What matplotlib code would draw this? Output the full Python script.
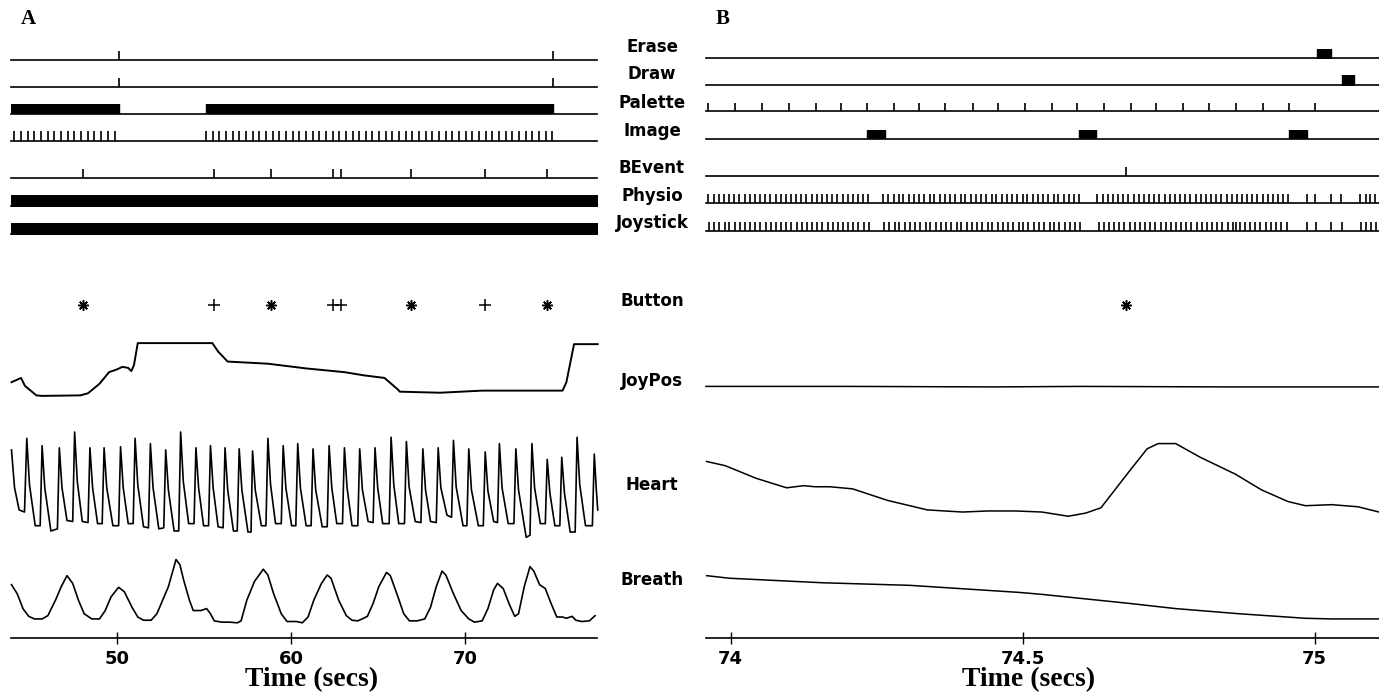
import matplotlib
matplotlib.use("Agg")
import matplotlib.pyplot as plt

# ---------------- data ----------------
xlim_a = (43.88, 77.58)
xlim_b = (73.958, 75.11)
ticks_a = [50, 60, 70]
ticks_b = [74, 74.5, 75]
ticklabels_a = ["50", "60", "70"]
ticklabels_b = ["74", "74.5", "75"]
row_labels = ["Erase", "Draw", "Palette", "Image", "BEvent", "Physio", "Joystick",
              "Button", "JoyPos", "Heart", "Breath"]

# Panel A events
erase_a = [50.1, 75.05]
draw_a = [50.1, 75.05]
palette_a_spans = [(43.9, 50.1), (55.09, 75.05)]
image_a = [44.06, 44.45, 44.83, 45.22, 45.60, 45.99, 46.37, 46.76, 47.14, 47.53, 47.91,
           48.30, 48.68, 49.07, 49.45, 49.84,
           55.09, 55.47, 55.86, 56.24, 56.62, 57.00, 57.39, 57.77, 58.15, 58.54, 58.92,
           59.30, 59.69, 60.07, 60.45, 60.83, 61.22, 61.60, 61.98, 62.37, 62.75, 63.13,
           63.52, 63.90, 64.28, 64.66, 65.05, 65.43, 65.81, 66.20, 66.58, 66.96, 67.35,
           67.73, 68.11, 68.49, 68.88, 69.26, 69.64, 70.03, 70.41, 70.79, 71.18, 71.56,
           71.94, 72.32, 72.71, 73.09, 73.47, 73.86, 74.24, 74.62, 75.01]
bevent_a = [48.04, 55.57, 58.85, 62.40, 62.83, 66.91, 71.16, 74.69]
physio_a_spans = [(43.9, 77.56)]
joystick_a_spans = [(43.9, 77.56)]
button_a_star = [48.04, 58.85, 66.91, 74.69]
button_a_plus = [55.57, 62.40, 62.83, 71.16]

joypos_a_t = [43.91, 44.46, 44.68, 45.34, 45.67, 47.87, 48.31, 48.97, 49.52, 49.96, 50.29,
              50.62, 50.80, 50.95, 51.17, 55.46, 55.79, 56.34, 58.65, 60.86, 63.05, 64.16,
              65.36, 66.13, 66.24, 68.55, 70.98, 75.60, 75.82, 76.26, 77.62]
joypos_a_v = [0.26, 0.34, 0.19, 0.01, 0.00, 0.01, 0.05, 0.23, 0.45, 0.50, 0.55,
              0.53, 0.47, 0.58, 1.00, 1.00, 0.84, 0.65, 0.61, 0.52, 0.45, 0.39,
              0.34, 0.12, 0.08, 0.06, 0.10, 0.10, 0.26, 0.98, 0.98]

heart_a_t = [43.908, 44.084, 44.348, 44.656, 44.788, 44.942, 45.272, 45.558, 45.668, 45.822,
             46.174, 46.549, 46.659, 46.813, 47.099, 47.429, 47.539, 47.693, 47.979, 48.309,
             48.419, 48.573, 48.859, 49.123, 49.233, 49.387, 49.740, 50.070, 50.180, 50.334,
             50.620, 50.906, 51.016, 51.170, 51.500, 51.786, 51.896, 52.050, 52.380, 52.666,
             52.776, 52.931, 53.261, 53.525, 53.635, 53.789, 54.097, 54.405, 54.515, 54.669,
             54.955, 55.241, 55.351, 55.505, 55.791, 56.078, 56.188, 56.342, 56.672, 56.892,
             57.002, 57.156, 57.508, 57.684, 57.772, 57.926, 58.278, 58.542, 58.653, 58.807,
             59.093, 59.423, 59.533, 59.687, 60.017, 60.259, 60.369, 60.523, 60.853, 61.139,
             61.249, 61.403, 61.777, 62.064, 62.174, 62.328, 62.614, 62.944, 63.054, 63.208,
             63.494, 63.824, 63.934, 64.088, 64.418, 64.704, 64.814, 64.968, 65.255, 65.629,
             65.739, 65.893, 66.179, 66.509, 66.619, 66.773, 67.125, 67.455, 67.565, 67.719,
             68.005, 68.336, 68.446, 68.600, 68.952, 69.216, 69.326, 69.480, 69.876, 70.096,
             70.206, 70.360, 70.756, 71.042, 71.152, 71.307, 71.637, 71.857, 71.967, 72.121,
             72.473, 72.803, 72.913, 73.067, 73.507, 73.727, 73.837, 73.991, 74.321, 74.607,
             74.717, 74.871, 75.157, 75.443, 75.553, 75.708, 76.038, 76.324, 76.434, 76.588,
             76.918, 77.314, 77.424, 77.534, 77.622]
heart_a_v = [0.83, 0.47, 0.26, 0.24, 0.94, 0.50, 0.11, 0.11, 0.87, 0.47,
             0.06, 0.08, 0.85, 0.47, 0.16, 0.15, 1.00, 0.53, 0.15, 0.14,
             0.85, 0.47, 0.13, 0.13, 0.85, 0.47, 0.11, 0.11, 0.86, 0.47,
             0.13, 0.13, 0.94, 0.50, 0.10, 0.09, 0.89, 0.47, 0.08, 0.09,
             0.83, 0.45, 0.06, 0.06, 1.00, 0.53, 0.13, 0.13, 0.85, 0.47,
             0.11, 0.11, 0.87, 0.47, 0.10, 0.09, 0.85, 0.45, 0.06, 0.06,
             0.84, 0.45, 0.05, 0.05, 0.82, 0.45, 0.11, 0.11, 0.94, 0.50,
             0.13, 0.13, 0.87, 0.47, 0.11, 0.11, 0.89, 0.47, 0.11, 0.11,
             0.84, 0.45, 0.10, 0.10, 0.87, 0.47, 0.13, 0.13, 0.85, 0.47,
             0.11, 0.11, 0.84, 0.45, 0.15, 0.14, 0.85, 0.47, 0.13, 0.13,
             0.95, 0.50, 0.13, 0.13, 0.91, 0.48, 0.15, 0.14, 0.84, 0.45,
             0.15, 0.14, 0.85, 0.47, 0.21, 0.19, 0.92, 0.48, 0.11, 0.11,
             0.84, 0.45, 0.11, 0.11, 0.81, 0.44, 0.15, 0.14, 0.89, 0.47,
             0.13, 0.13, 0.84, 0.45, 0.00, 0.02, 0.89, 0.47, 0.13, 0.13,
             0.74, 0.42, 0.11, 0.11, 0.76, 0.42, 0.05, 0.05, 0.95, 0.50,
             0.11, 0.11, 0.79, 0.47, 0.26]

breath_a_t = [43.908, 44.238, 44.568, 44.898, 45.228, 45.668, 45.998, 46.438, 46.769, 47.099,
              47.429, 47.759, 48.089, 48.529, 48.969, 49.300, 49.630, 50.070, 50.400, 50.840,
              51.170, 51.500, 51.940, 52.270, 52.601, 52.931, 53.371, 53.591, 53.811, 54.141,
              54.361, 54.801, 55.131, 55.351, 55.571, 56.012, 56.452, 56.892, 57.112, 57.442,
              57.882, 58.388, 58.653, 58.983, 59.423, 59.753, 60.303, 60.633, 60.963, 61.293,
              61.733, 62.064, 62.284, 62.724, 63.164, 63.494, 63.824, 64.154, 64.374, 64.704,
              65.034, 65.475, 65.695, 66.135, 66.465, 66.795, 67.235, 67.675, 68.005, 68.336,
              68.666, 68.886, 69.326, 69.766, 70.206, 70.536, 70.976, 71.307, 71.637, 71.857,
              72.187, 72.517, 72.847, 73.067, 73.397, 73.727, 73.947, 74.277, 74.607, 74.938,
              75.268, 75.598, 75.818, 76.148, 76.368, 76.698, 77.138, 77.468]
breath_a_v = [0.61, 0.47, 0.24, 0.12, 0.08, 0.08, 0.13, 0.37, 0.58, 0.75,
              0.63, 0.37, 0.16, 0.08, 0.08, 0.21, 0.42, 0.57, 0.50, 0.26,
              0.11, 0.06, 0.06, 0.16, 0.37, 0.58, 1.00, 0.92, 0.68, 0.37,
              0.21, 0.21, 0.24, 0.16, 0.05, 0.03, 0.03, 0.02, 0.05, 0.37,
              0.66, 0.85, 0.76, 0.47, 0.16, 0.04, 0.04, 0.02, 0.11, 0.37,
              0.63, 0.76, 0.71, 0.37, 0.13, 0.06, 0.05, 0.09, 0.12, 0.32,
              0.58, 0.80, 0.75, 0.42, 0.16, 0.05, 0.05, 0.08, 0.26, 0.58,
              0.82, 0.76, 0.47, 0.21, 0.08, 0.03, 0.05, 0.24, 0.53, 0.63,
              0.55, 0.32, 0.12, 0.16, 0.58, 0.89, 0.82, 0.61, 0.55, 0.32,
              0.11, 0.11, 0.09, 0.12, 0.06, 0.04, 0.05, 0.13]

# Panel B events
erase_b_spans = [(75.004, 75.027)]
draw_b_spans = [(75.047, 75.067)]
palette_b = [73.962, 74.008, 74.054, 74.100, 74.146, 74.189, 74.234, 74.279, 74.323, 74.367,
             74.415, 74.457, 74.504, 74.551, 74.593, 74.640, 74.685, 74.729, 74.774, 74.819,
             74.866, 74.911, 74.956, 75.000]
image_b_spans = [(74.234, 74.264), (74.596, 74.625), (74.956, 74.986)]
bevent_b = [74.677]
physio_b = [73.962, 73.971, 73.980, 73.989, 73.997, 74.006, 74.015, 74.024, 74.033, 74.042,
            74.050, 74.059, 74.068, 74.077, 74.086, 74.095, 74.103, 74.112, 74.121, 74.130,
            74.139, 74.148, 74.156, 74.165, 74.174, 74.183, 74.192, 74.201, 74.209, 74.218,
            74.227, 74.236,
            74.261, 74.270, 74.279, 74.288, 74.296, 74.305, 74.314, 74.323, 74.332, 74.341,
            74.349, 74.358, 74.367, 74.376, 74.385, 74.394, 74.402, 74.411, 74.420, 74.429,
            74.438, 74.447, 74.455, 74.464, 74.473, 74.482, 74.491, 74.500, 74.508, 74.517,
            74.526, 74.535, 74.544, 74.553, 74.561, 74.570, 74.579, 74.588, 74.597,
            74.628, 74.637, 74.646, 74.655, 74.663, 74.672, 74.681, 74.690, 74.699, 74.708,
            74.716, 74.725, 74.734, 74.743, 74.752, 74.761, 74.769, 74.778, 74.787, 74.796,
            74.805, 74.814, 74.822, 74.831, 74.840, 74.849, 74.858, 74.867, 74.875, 74.884,
            74.893, 74.902, 74.911, 74.920, 74.928, 74.937, 74.946, 74.955,
            74.986, 75.001, 75.027, 75.045, 75.078, 75.087, 75.095, 75.104]
joystick_b = [73.963, 73.972, 73.980, 73.990, 73.998, 74.007, 74.016, 74.025, 74.034, 74.042,
              74.051, 74.060, 74.069, 74.078, 74.087, 74.095, 74.104, 74.113, 74.122, 74.131,
              74.139, 74.148, 74.157, 74.166, 74.175, 74.184, 74.192, 74.201, 74.210, 74.219,
              74.228, 74.237,
              74.263, 74.272, 74.281, 74.289, 74.298, 74.307, 74.316, 74.325, 74.334, 74.342,
              74.351, 74.360, 74.369, 74.378, 74.387, 74.395, 74.404, 74.413, 74.422, 74.431,
              74.440, 74.448, 74.457, 74.466, 74.475, 74.484, 74.493, 74.501, 74.510, 74.519,
              74.528, 74.537, 74.546, 74.554, 74.563, 74.572, 74.581, 74.590, 74.598,
              74.630, 74.639, 74.648, 74.656, 74.665, 74.674, 74.683, 74.692, 74.701, 74.709,
              74.718, 74.727, 74.736, 74.745, 74.754, 74.762, 74.771, 74.780, 74.789, 74.798,
              74.807, 74.815, 74.824, 74.833, 74.842, 74.851, 74.860, 74.866, 74.872, 74.880,
              74.889, 74.898, 74.907, 74.916, 74.925, 74.934, 74.943, 74.952,
              74.987, 75.002, 75.028, 75.046, 75.079, 75.088, 75.096, 75.105]
button_b_star = [74.677]

joypos_b_t = [73.958, 74.20, 74.45, 74.60, 74.85, 75.11]
joypos_b_v = [0.18, 0.18, 0.17, 0.18, 0.17, 0.17]

heart_b_t = [73.959, 73.991, 74.044, 74.096, 74.125, 74.145, 74.170, 74.209, 74.269, 74.337,
             74.397, 74.440, 74.488, 74.533, 74.578, 74.608, 74.634, 74.683, 74.713, 74.732,
             74.762, 74.804, 74.864, 74.909, 74.954, 74.984, 75.029, 75.074, 75.110]
heart_b_v = [0.72, 0.68, 0.56, 0.47, 0.49, 0.48, 0.48, 0.46, 0.35, 0.26,
             0.24, 0.25, 0.25, 0.24, 0.20, 0.23, 0.28, 0.63, 0.84, 0.89,
             0.89, 0.76, 0.60, 0.45, 0.34, 0.30, 0.31, 0.29, 0.24]

breath_b_t = [73.959, 73.998, 74.157, 74.307, 74.495, 74.533, 74.683, 74.762, 74.871, 74.984,
              75.029, 75.110]
breath_b_v = [0.75, 0.71, 0.64, 0.60, 0.49, 0.46, 0.32, 0.24, 0.16, 0.09, 0.08, 0.08]

# ---------------- layout (pixels) ----------------
W, H, DPI = 1379, 692, 100
AX_A = (11, 597)
AX_B = (706, 1379)
LABEL_X = 652
LW = 1.2

fig = plt.figure(figsize=(W / DPI, H / DPI), dpi=DPI)
fig.patch.set_facecolor("white")


def px_axes(xr, ytop, ybot):
    ax = fig.add_axes([xr[0] / W, 1 - ybot / H, (xr[1] - xr[0]) / W, (ybot - ytop) / H])
    ax.set_axis_off()
    ax.set_ylim(0, 1)
    return ax


def event_row(xr, xlim, base, height, ticks=None, spans=None):
    ax = px_axes(xr, base - height, base)
    ax.set_xlim(*xlim)
    ax.axhline(0, color="black", lw=LW, clip_on=False)
    if ticks:
        ax.vlines(ticks, 0, 1, color="black", lw=LW)
    if spans:
        ax.broken_barh([(s, e - s) for s, e in spans], (0, 1), color="black")
    return ax


def trace_row(xr, xlim, ytop, ybot, t, v, lw=1.1):
    ax = px_axes(xr, ytop, ybot)
    ax.set_xlim(*xlim)
    ax.plot(t, v, color="black", lw=lw, clip_on=False)
    return ax


# Panel A event rows
event_row(AX_A, xlim_a, 60, 9, ticks=erase_a)
event_row(AX_A, xlim_a, 86.7, 9, ticks=draw_a)
event_row(AX_A, xlim_a, 114, 10, spans=palette_a_spans)
event_row(AX_A, xlim_a, 140.7, 9.5, ticks=image_a)
event_row(AX_A, xlim_a, 177.7, 8.7, ticks=bevent_a)
event_row(AX_A, xlim_a, 206, 11, spans=physio_a_spans)
event_row(AX_A, xlim_a, 233.5, 11, spans=joystick_a_spans)

# Panel B event rows
event_row(AX_B, xlim_b, 57.5, 9, spans=erase_b_spans)
event_row(AX_B, xlim_b, 84.5, 9.5, spans=draw_b_spans)
event_row(AX_B, xlim_b, 111, 8.5, ticks=palette_b)
event_row(AX_B, xlim_b, 139, 9.5, spans=image_b_spans)
event_row(AX_B, xlim_b, 176, 9, ticks=bevent_b)
event_row(AX_B, xlim_b, 203.3, 9, ticks=physio_b)
event_row(AX_B, xlim_b, 231, 9, ticks=joystick_b)

# Button rows
for xr, xlim, stars, pluses in [(AX_A, xlim_a, button_a_star, button_a_plus),
                                (AX_B, xlim_b, button_b_star, [])]:
    ax = px_axes(xr, 295, 315)
    ax.set_xlim(*xlim)
    ax.plot(stars, [0.5] * len(stars), ls="none", marker=(8, 2, 0), ms=7.5,
            mew=1.1, color="black")
    if pluses:
        ax.plot(pluses, [0.5] * len(pluses), ls="none", marker="+", ms=8.5,
                mew=1.1, color="black")

# Traces
trace_row(AX_A, xlim_a, 343.1, 395.9, joypos_a_t, joypos_a_v, lw=1.4)
trace_row(AX_B, xlim_b, 343.1, 395.9, joypos_b_t, joypos_b_v)
trace_row(AX_A, xlim_a, 432, 537.3, heart_a_t, heart_a_v, lw=1.2)
trace_row(AX_B, xlim_b, 432, 537.3, heart_b_t, heart_b_v)
trace_row(AX_A, xlim_a, 559.5, 624.1, breath_a_t, breath_a_v, lw=1.2)
trace_row(AX_B, xlim_b, 559.5, 624.1, breath_b_t, breath_b_v)

# Time axes
for xr, xlim, tk, tl in [(AX_A, xlim_a, ticks_a, ticklabels_a),
                         (AX_B, xlim_b, ticks_b, ticklabels_b)]:
    ax = fig.add_axes([xr[0] / W, 1 - 638 / H, (xr[1] - xr[0]) / W, 0.5 / H])
    ax.set_xlim(*xlim)
    ax.set_yticks([])
    for s in ["top", "left", "right"]:
        ax.spines[s].set_visible(False)
    ax.spines["bottom"].set_linewidth(LW)
    ax.patch.set_alpha(0)
    ax.set_xticks(tk)
    ax.set_xticklabels(tl, fontsize=13, fontweight="bold", family="DejaVu Sans")
    ax.tick_params(axis="x", direction="inout", length=8, width=1, pad=5)

# Row labels
label_y = [46.7, 74, 102.7, 130.7, 167.7, 196, 223, 300.7, 380.7, 485, 580]
for name, y in zip(row_labels, label_y):
    fig.text(LABEL_X / W, 1 - y / H, name, ha="center", va="center",
             fontsize=12, fontweight="bold", family="DejaVu Sans")

# Panel letters and axis titles
fig.text(28 / W, 1 - 19 / H, "A", ha="center", va="center", fontsize=15,
         fontweight="bold", family="Liberation Serif")
fig.text(723 / W, 1 - 19 / H, "B", ha="center", va="center", fontsize=15,
         fontweight="bold", family="Liberation Serif")
fig.text(312 / W, 1 - 680 / H, "Time (secs)", ha="center", va="center", fontsize=20,
         fontweight="bold", family="Liberation Serif")
fig.text(1029 / W, 1 - 680 / H, "Time (secs)", ha="center", va="center", fontsize=20,
         fontweight="bold", family="Liberation Serif")

fig.savefig("out.png", dpi=DPI)
